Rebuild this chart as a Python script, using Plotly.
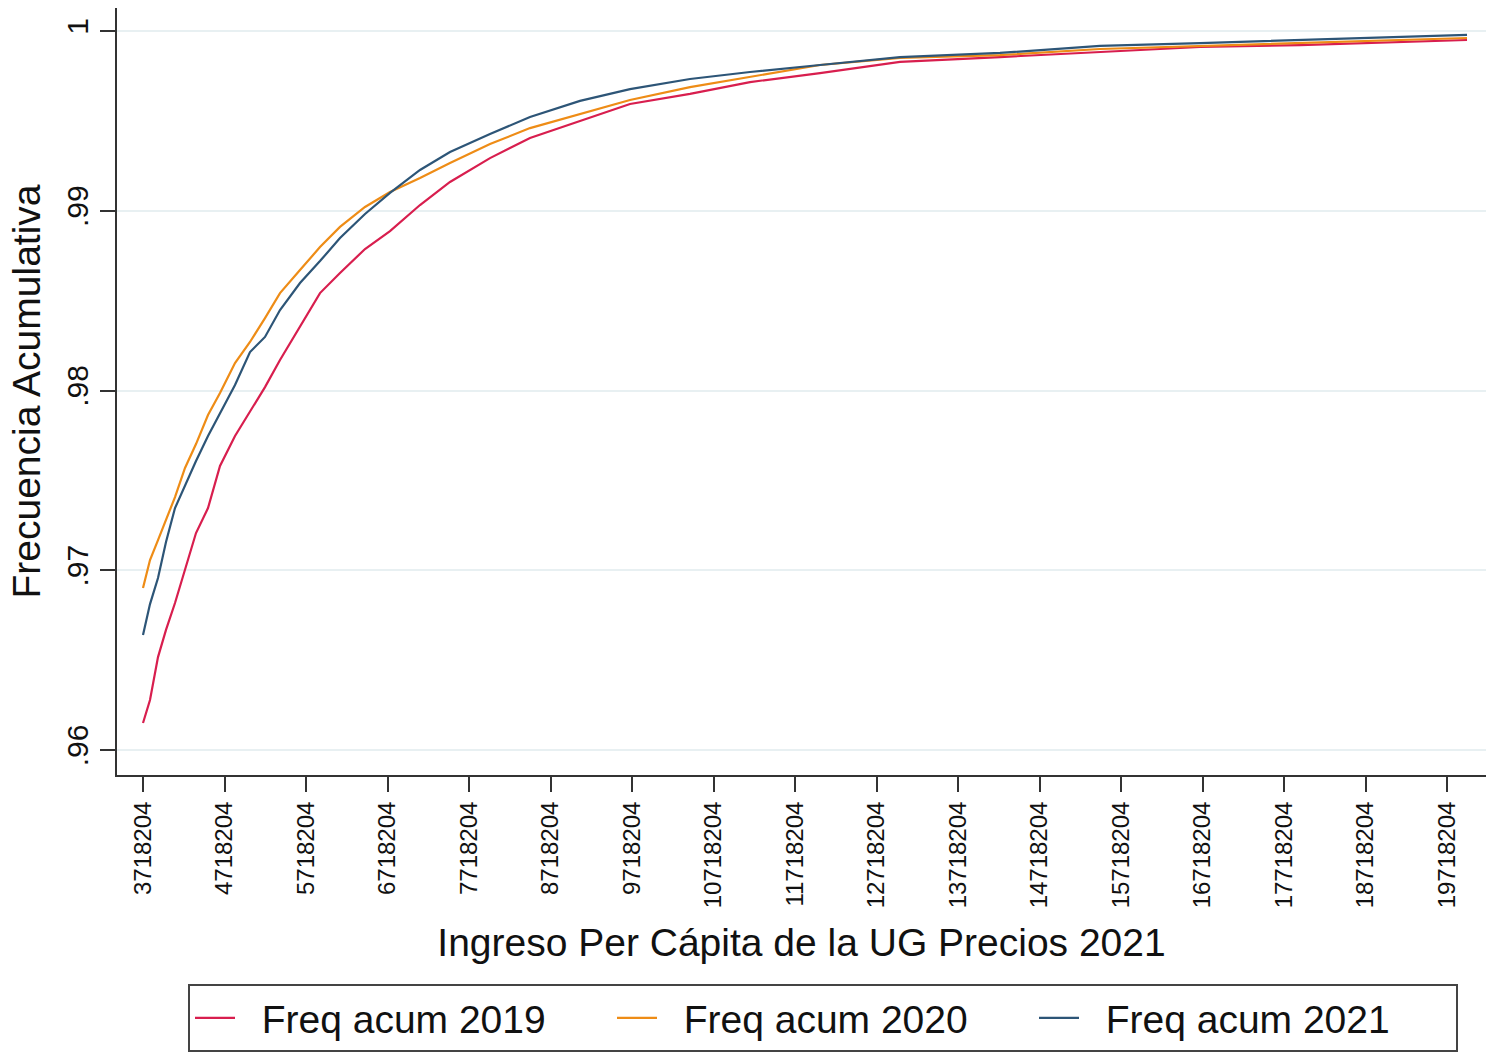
import plotly.graph_objects as go

# Ingreso per cápita de la UG (precios 2021)
ingreso = [3718204, 3804094, 3902254, 4000414, 4110844, 4233544, 4368514, 4515754,
           4662994, 4847044, 5031094, 5215144, 5399194, 5644594, 5889994, 6135394,
           6442144, 6748894, 7116994, 7485094, 7975894, 8466694, 9080194, 9693694,
           10429894, 11166094, 12024994, 13006594, 14233594, 15460594, 16687594,
           17914594, 19141594, 19963674]

freq_2019 = [0.96150, 0.96278, 0.96517, 0.96668, 0.96818, 0.97001, 0.97207, 0.97346,
             0.97580, 0.97747, 0.97886, 0.98019, 0.98170, 0.98353, 0.98542, 0.98654,
             0.98787, 0.98887, 0.99032, 0.99160, 0.99293, 0.99405, 0.99499, 0.99594,
             0.99650, 0.99716, 0.99766, 0.99828, 0.99855, 0.99883, 0.99911, 0.99922,
             0.99939, 0.99950]

freq_2020 = [0.96901, 0.97057, 0.97168, 0.97280, 0.97407, 0.97569, 0.97702, 0.97864,
             0.97986, 0.98153, 0.98270, 0.98403, 0.98542, 0.98670, 0.98798, 0.98910,
             0.99021, 0.99104, 0.99182, 0.99266, 0.99371, 0.99460, 0.99538, 0.99616,
             0.99688, 0.99744, 0.99811, 0.99850, 0.99866, 0.99900, 0.99917, 0.99933,
             0.99950, 0.99961]

freq_2021 = [0.96640, 0.96812, 0.96957, 0.97157, 0.97346, 0.97474, 0.97608, 0.97747,
             0.97875, 0.98031, 0.98214, 0.98298, 0.98448, 0.98598, 0.98720, 0.98848,
             0.98982, 0.99099, 0.99227, 0.99327, 0.99427, 0.99522, 0.99611, 0.99677,
             0.99733, 0.99772, 0.99811, 0.99855, 0.99878, 0.99917, 0.99933, 0.99950,
             0.99967, 0.99978]

series_names = ["Freq acum 2019", "Freq acum 2020", "Freq acum 2021"]
series_colors = ["#d81e4e", "#ee8c16", "#2d5577"]

x_ticks = [3718204 + 1000000 * i for i in range(17)]
y_ticks = [0.96, 0.97, 0.98, 0.99, 1.0]
y_tick_labels = [".96", ".97", ".98", ".99", "1"]

FONT = "Liberation Sans, Arial, sans-serif"
AXIS_COLOR = "#333333"
TEXT_COLOR = "#111111"

fig = go.Figure()
for name, ys, color in zip(series_names, [freq_2019, freq_2020, freq_2021], series_colors):
    fig.add_trace(go.Scatter(
        x=ingreso, y=ys, mode="lines",
        name="\u00a0\u00a0" + name,  # small gap between key line and label
        line=dict(color=color, width=2.2),
    ))

fig.update_layout(
    width=1486, height=1052,
    margin=dict(l=117, r=0, t=8, b=277),
    paper_bgcolor="white", plot_bgcolor="white",
    font=dict(family=FONT, color=TEXT_COLOR),
    showlegend=True,
    legend=dict(
        orientation="h",
        x=(188 - 117) / 1369, xanchor="left",
        y=-0.2725, yanchor="top",
        font=dict(size=39, family=FONT, color=TEXT_COLOR),
        bordercolor="#444444", borderwidth=2,
        bgcolor="white",
        entrywidth=367, entrywidthmode="pixels",
        itemwidth=40,
        traceorder="normal",
    ),
)

fig.update_xaxes(
    range=[3399186, 20196731],
    tickmode="array", tickvals=x_ticks,
    ticktext=[str(v) for v in x_ticks],
    tickangle=-90,
    tickfont=dict(size=24, family=FONT, color=TEXT_COLOR),
    ticks="outside", ticklen=15, tickwidth=2, tickcolor=AXIS_COLOR,
    showline=True, linecolor=AXIS_COLOR, linewidth=2,
    showgrid=False, zeroline=False,
    title=dict(text="Ingreso Per Cápita de la UG Precios 2021",
               font=dict(size=39, family=FONT, color=TEXT_COLOR), standoff=21),
)

fig.update_yaxes(
    range=[0.95861, 1.00128],
    tickmode="array", tickvals=y_ticks, ticktext=y_tick_labels,
    tickangle=-90,
    tickfont=dict(size=30, family=FONT, color=TEXT_COLOR),
    ticks="outside", ticklen=15, tickwidth=2, tickcolor=AXIS_COLOR,
    showline=True, linecolor=AXIS_COLOR, linewidth=2,
    showgrid=True, gridcolor="#e8f0f2", gridwidth=2,
    zeroline=False,
    title=dict(text="Frecuencia Acumulativa",
               font=dict(size=39, family=FONT, color=TEXT_COLOR), standoff=8),
)

fig.write_html("out.html")
